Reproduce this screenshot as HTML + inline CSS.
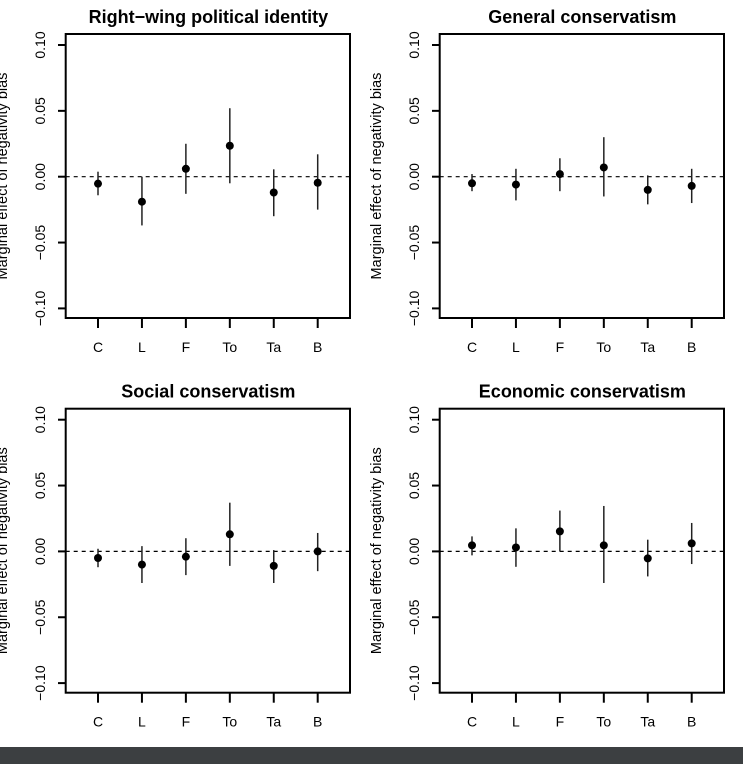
<!DOCTYPE html>
<html><head><meta charset="utf-8"><style>
html,body{margin:0;padding:0;background:#fff;width:743px;height:764px;overflow:hidden}
svg{display:block;font-family:"Liberation Sans",Arial,sans-serif}
</style></head><body>
<svg id="chart" width="743" height="764">
<rect x="0" y="747" width="743" height="17" fill="#3c3f41"/>
</svg>
<script>
const categories = ["C","L","F","To","Ta","B"];
const yTicks = [-0.10,-0.05,0.00,0.05,0.10];
const yTickLabels = ["\u22120.10","\u22120.05","0.00","0.05","0.10"];
const titles = ["Right\u2212wing political identity","General conservatism","Social conservatism","Economic conservatism"];
const est1 = [-0.0053,-0.019,0.006,0.0235,-0.012,-0.0046];
const lo1  = [-0.0141,-0.037,-0.013,-0.005,-0.030,-0.025];
const hi1  = [0.0038,0.0,0.025,0.052,0.0056,0.017];
const est2 = [-0.005,-0.006,0.002,0.007,-0.010,-0.007];
const lo2  = [-0.011,-0.018,-0.011,-0.015,-0.021,-0.020];
const hi2  = [0.002,0.006,0.014,0.030,0.001,0.006];
const est3 = [-0.005,-0.010,-0.004,0.013,-0.011,0.000];
const lo3  = [-0.012,-0.024,-0.018,-0.011,-0.024,-0.015];
const hi3  = [0.002,0.004,0.010,0.037,0.001,0.014];
const est4 = [0.0046,0.003,0.0152,0.0046,-0.0053,0.0061];
const lo4  = [-0.003,-0.0117,0.0,-0.024,-0.019,-0.0096];
const hi4  = [0.0114,0.0175,0.031,0.0345,0.0089,0.0216];
const ests=[est1,est2,est3,est4], los=[lo1,lo2,lo3,lo4], his=[hi1,hi2,hi3,hi4];
const NS="http://www.w3.org/2000/svg";
const svg=document.getElementById('chart');
function mk(tag,attrs,parent){const e=document.createElementNS(NS,tag);for(const k in attrs)e.setAttribute(k,attrs[k]);parent.appendChild(e);return e;}
const offs=[[0,0],[374,0],[0,374.7],[374,374.7]];
offs.forEach((o,p)=>{
  const g=mk('g',{transform:`translate(${o[0]},${o[1]})`},svg);
  
  
  const L=65.7,R=350,T=34,B=318;
  const yS=v=>176.7-v*1317;
  const xS=i=>98+i*43.94;
  const t=mk('text',{x:(L+R)/2+0.5,y:23,'text-anchor':'middle','font-size':'18','font-weight':'bold'},g);
  t.textContent=titles[p];
  
  
  const yt=mk('text',{x:0,y:0,transform:`translate(7,${(T+B)/2}) rotate(-90)`,'text-anchor':'middle','font-size':'14.5'},g);
  yt.textContent="Marginal effect of negativity bias";
  
  
  yTicks.forEach((v,i)=>{
    const y=yS(v);
    const tk=mk('line',{x1:58,x2:L,y1:y,y2:y,stroke:'#000','stroke-width':2},g);
    
    
    const lb=mk('text',{x:0,y:0,transform:`translate(45,${y}) rotate(-90)`,'text-anchor':'middle','font-size':'14'},g);
    lb.textContent=yTickLabels[i];
    
    
  });
  categories.forEach((c,i)=>{
    const x=xS(i);
    const tk=mk('line',{x1:x,x2:x,y1:B,y2:328,stroke:'#000','stroke-width':2},g);
    
    
    const lb=mk('text',{x:x,y:352,'text-anchor':'middle','font-size':'14'},g);
    lb.textContent=c;
    
    
  });
  const zl=mk('line',{x1:L,x2:R,y1:yS(0),y2:yS(0),stroke:'#000','stroke-width':1.2,'stroke-dasharray':'4,4'},g);
  
  
  categories.forEach((c,i)=>{
    const x=xS(i);
    const ci=mk('line',{x1:x,x2:x,y1:yS(his[p][i]),y2:yS(los[p][i]),stroke:'#222','stroke-width':1.5},g);
    
    
    const pt=mk('circle',{cx:x,cy:yS(ests[p][i]),r:4,fill:'#000'},g);
    
    
  });
  const bx=mk('rect',{x:L,y:T,width:R-L,height:B-T,fill:'none',stroke:'#000','stroke-width':2},g);
  
  
});
</script>
</body></html>
